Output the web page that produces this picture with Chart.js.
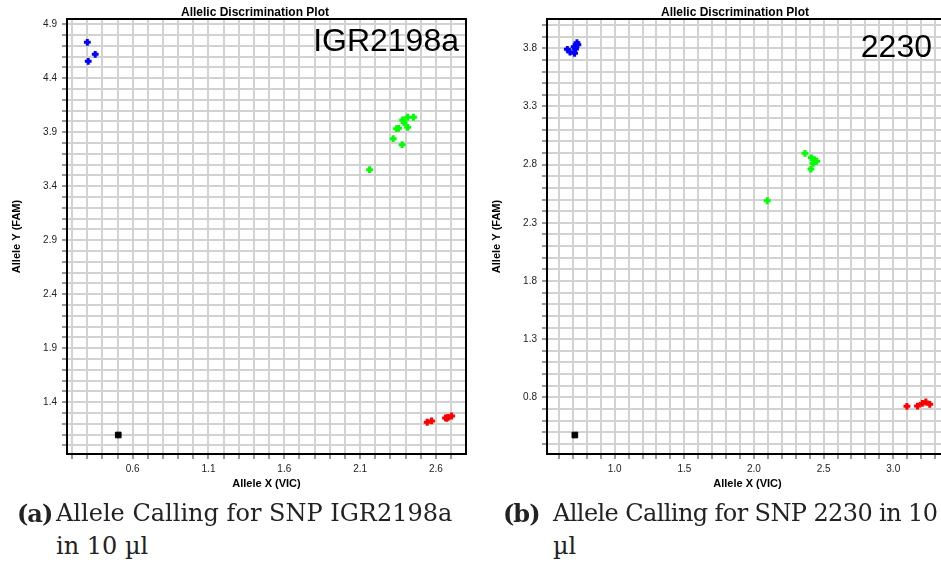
<!DOCTYPE html>
<html>
<head>
<meta charset="utf-8">
<script src="https://cdn.jsdelivr.net/npm/chart.js@4.4.0/dist/chart.umd.min.js"></script>
<style>
	body { margin: 0; background: #fff; width: 941px; height: 567px; overflow: hidden; position: relative; }
	canvas { position: absolute; top: 0; }
	#chart-a { left: 0; }
	#chart-b { left: 480px; }
	.cap { position: absolute; font-family: "DejaVu Serif", serif; font-size: 24px; color: #222; white-space: nowrap; }
	.cap b { font-weight: bold; letter-spacing: -1px; }
	.tight { letter-spacing: -0.6px; }
</style>
</head>
<body>
<canvas id="chart-a" width="475" height="500"></canvas>
<canvas id="chart-b" width="475" height="500"></canvas>

<span class="cap" style="left:17px;top:499px;"><b>(a)</b></span>
<span class="cap" style="left:56px;top:499px;">Allele Calling for SNP IGR2198a</span>
<span class="cap" style="left:56px;top:532px;">in 10 µl</span>
<span class="cap" style="left:503px;top:499px;"><b>(b)</b></span>
<span class="cap tight" style="left:553px;top:499px;">Allele Calling for SNP 2230 in 10</span>
<span class="cap" style="left:553px;top:532px;">µl</span>

<script>
// SNP IGR2198a
var igrBlueX  = [0.301, 0.353, 0.307];
var igrBlueY  = [4.733, 4.622, 4.557];
var igrGreenX = [2.380, 2.413, 2.452, 2.390, 2.340, 2.353, 2.413, 2.318, 2.377, 2.162];
var igrGreenY = [4.014, 4.039, 4.039, 3.989, 3.933, 3.937, 3.946, 3.841, 3.785, 3.554];
var igrRedX   = [2.542, 2.571, 2.663, 2.672, 2.680, 2.703];
var igrRedY   = [1.215, 1.227, 1.255, 1.252, 1.261, 1.273];
var igrNtcX   = [0.505];
var igrNtcY   = [1.097];
var igrXLabels = [0.6, 1.1, 1.6, 2.1, 2.6];
var igrYLabels = [1.4, 1.9, 2.4, 2.9, 3.4, 3.9, 4.4, 4.9];

// SNP 2230
var snpBlueX  = [0.660, 0.679, 0.712, 0.719, 0.729, 0.709, 0.736];
var snpBlueY  = [3.791, 3.768, 3.757, 3.794, 3.848, 3.814, 3.831];
var snpGreenX = [2.366, 2.412, 2.436, 2.450, 2.426, 2.409, 2.095];
var snpGreenY = [2.897, 2.859, 2.840, 2.830, 2.811, 2.762, 2.490];
var snpRedX   = [3.098, 3.174, 3.209, 3.234, 3.262];
var snpRedY   = [0.723, 0.725, 0.748, 0.760, 0.740];
var snpNtcX   = [0.714];
var snpNtcY   = [0.476];
var snpXLabels = [1.0, 1.5, 2.0, 2.5, 3.0];
var snpYLabels = [0.8, 1.3, 1.8, 2.3, 2.8, 3.3, 3.8];

var gridStep = 0.1;

Chart.defaults.font.family = '"Liberation Sans", Arial, sans-serif';

function toPoints(xs, ys){
	var pts = [];
	for (var i = 0; i < xs.length; i++) {
		pts.push({x: xs[i], y: ys[i]});
	};
	return pts;
}

function crossSet(xs, ys, color){
	return {
		data: toPoints(xs, ys),
		pointStyle: 'cross',
		pointRadius: 3.4,
		pointBorderWidth: 3,
		borderColor: color,
		backgroundColor: color
	};
}

// one tick every 0.1, label only on the listed values
function gridTicks(scale){
	var ticks = [];
	var start = Math.ceil(scale.min / gridStep - 1e-6);
	var end = Math.floor(scale.max / gridStep + 1e-6);
	for (var k = start; k <= end; k++) {
		ticks.push({value: Math.round(k * gridStep * 10) / 10});
	};
	scale.ticks = ticks;
}

function labelCallback(labels){
	return function(v){
		for (var i = 0; i < labels.length; i++) {
			if (Math.abs(labels[i] - v) < 1e-6) return v.toFixed(1);
		};
		return '';
	};
}

var framePlugin = {
	id: 'frame',
	afterDraw: function(chart, args, opts){
		var ctx = chart.ctx;
		var a = chart.chartArea;
		ctx.save();
		ctx.strokeStyle = '#000';
		ctx.lineWidth = 2;
		ctx.strokeRect(a.left, a.top, a.right - a.left, a.bottom - a.top);

		ctx.fillStyle = '#000';
		ctx.font = 'bold 12px "Liberation Sans", Arial';
		ctx.textAlign = 'center';
		ctx.textBaseline = 'middle';
		ctx.fillText(opts.title, opts.titleX, 12.5);

		ctx.font = '32px "Liberation Sans", Arial';
		ctx.textAlign = 'right';
		ctx.textBaseline = 'alphabetic';
		ctx.fillText(opts.label, opts.labelX, opts.labelY);
		ctx.restore();
	}
};

function makeChart(id, sets, xr, yr, xLabels, yLabels, padRight, frame){
	var ctx = document.getElementById(id);
	return new Chart(ctx, {
		type: 'scatter',
		data: { datasets: sets },
		plugins: [framePlugin],
		options: {
			responsive: false,
			animation: false,
			layout: { padding: { top: 19, right: padRight, left: 0, bottom: 0 } },
			plugins: {
				legend: { display: false },
				tooltip: { enabled: false },
				frame: frame
			},
			scales: {
				x: {
					type: 'linear',
					min: xr[0],
					max: xr[1],
					afterBuildTicks: gridTicks,
					afterFit: function(s){ s.height = 46; },
					grid: { color: '#d2d2d2', lineWidth: 2, tickLength: 5, tickColor: '#999' },
					border: { display: false },
					ticks: { autoSkip: false, maxRotation: 0, padding: 4, color: '#222', font: { size: 10 }, callback: labelCallback(xLabels) },
					title: { display: true, text: 'Allele X (VIC)', color: '#000', font: { size: 11, weight: 'bold' }, padding: { top: 0, bottom: 9 } }
				},
				y: {
					type: 'linear',
					min: yr[0],
					max: yr[1],
					afterBuildTicks: gridTicks,
					afterFit: function(s){ s.width = 67; },
					grid: { color: '#d2d2d2', lineWidth: 2, tickLength: 5, tickColor: '#999' },
					border: { display: false },
					ticks: { autoSkip: false, padding: 5, color: '#222', font: { size: 10 }, callback: labelCallback(yLabels) },
					title: { display: true, text: 'Allele Y (FAM)', color: '#000', font: { size: 11, weight: 'bold' }, padding: { top: 10, bottom: 0 } }
				}
			}
		}
	});
}

makeChart('chart-a', [
	crossSet(igrBlueX, igrBlueY, '#0000ff'),
	crossSet(igrGreenX, igrGreenY, '#00ff00'),
	crossSet(igrRedX, igrRedY, '#ff0000'),
	{ data: toPoints(igrNtcX, igrNtcY), pointStyle: 'rect', pointRadius: 4, borderColor: '#000', backgroundColor: '#000' }
], [0.167, 2.798], [0.921, 4.949], igrXLabels, igrYLabels, 9,
	{ title: 'Allelic Discrimination Plot', titleX: 255, label: 'IGR2198a', labelX: 459, labelY: 51 });

makeChart('chart-b', [
	crossSet(snpBlueX, snpBlueY, '#0000ff'),
	crossSet(snpGreenX, snpGreenY, '#00ff00'),
	crossSet(snpRedX, snpRedY, '#ff0000'),
	{ data: toPoints(snpNtcX, snpNtcY), pointStyle: 'rect', pointRadius: 4, borderColor: '#000', backgroundColor: '#000' }
], [0.514, 3.393], [0.313, 4.052], snpXLabels, snpYLabels, 5,
	{ title: 'Allelic Discrimination Plot', titleX: 255, label: '2230', labelX: 452, labelY: 56.5 });
</script>
</body>
</html>
